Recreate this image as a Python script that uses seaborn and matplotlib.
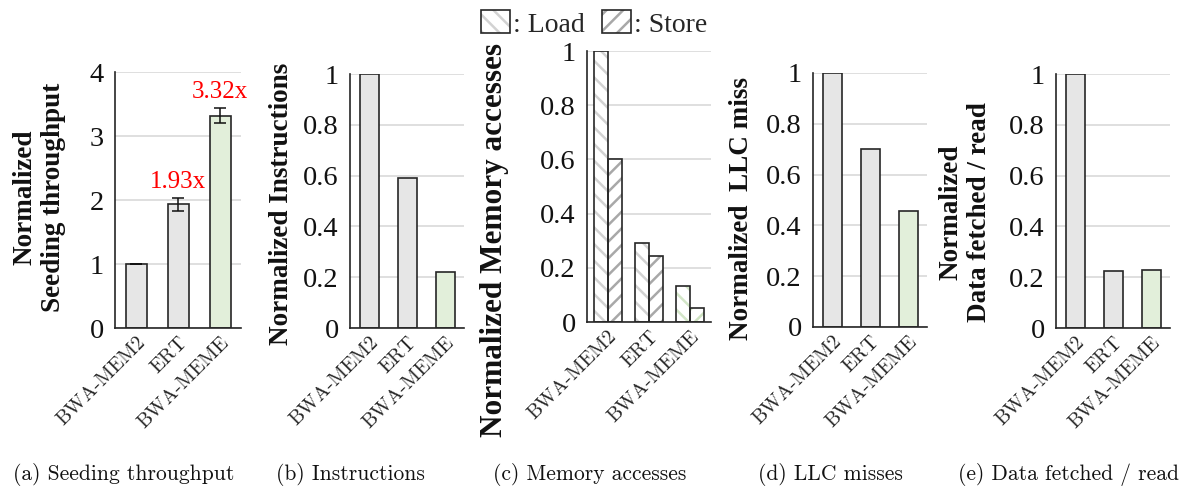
import numpy as np
import pandas as pd
import matplotlib
matplotlib.use("Agg")
import matplotlib.pyplot as plt
import seaborn as sns
from matplotlib.patches import Patch, Rectangle
from matplotlib.legend_handler import HandlerTuple
from matplotlib.ticker import FuncFormatter, FixedLocator

# ---------------- data ----------------
systems = ["BWA-MEM2", "ERT", "BWA-MEME"]
throughput = [1.0, 1.93, 3.32]
throughput_err = [0.0, 0.10, 0.11]
throughput_labels = ["", "1.93x", "3.32x"]
instructions = [1.0, 0.59, 0.22]
access_types = ["Load", "Store"]
mem_load = [1.0, 0.29, 0.134]
mem_store = [0.60, 0.244, 0.053]
llc_miss = [1.0, 0.70, 0.455]
data_fetched = [1.0, 0.223, 0.228]

ylabels = ["Normalized\nSeeding throughput", "Normalized Instructions",
           "Normalized Memory accesses", "Normalized  LLC miss",
           "Normalized\nData fetched / read"]
captions = ["(a) Seeding throughput", "(b) Instructions", "(c) Memory accesses",
            "(d) LLC misses", "(e) Data fetched / read"]

# ---------------- style ----------------
sns.set_theme(style="white")
plt.rcParams["font.family"] = ["Liberation Serif", "DejaVu Serif"]
plt.rcParams["hatch.linewidth"] = 1.8

GRAY = "#e6e6e6"
GREEN = "#e2efda"
EDGE = "#262626"
bar_palette = {"BWA-MEM2": GRAY, "ERT": GRAY, "BWA-MEME": GREEN}
load_hatch_col = {"BWA-MEM2": "#d2d2d2", "ERT": "#d2d2d2", "BWA-MEME": "#d3e6c8"}
store_hatch_col = {"BWA-MEM2": "#a8a8a8", "ERT": "#a8a8a8", "BWA-MEME": "#cde2c0"}

W, H = 1180, 486
fig = plt.figure(figsize=(W / 100, H / 100), dpi=100)

def px_axes(left, right, top, bottom):
    return fig.add_axes([left / W, 1 - bottom / H, (right - left) / W, (bottom - top) / H])

axes = [
    px_axes(115, 241, 72, 328),
    px_axes(350, 464, 74, 328),
    px_axes(587, 711, 51, 322),
    px_axes(813, 927, 73, 327),
    px_axes(1056, 1170, 74, 328),
]

def style_axis(ax, ymax, yticks):
    ax.set_xlim(-0.5, len(systems) - 0.5)
    ax.set_ylim(0, ymax)
    ax.yaxis.set_major_locator(FixedLocator(yticks))
    ax.yaxis.set_major_formatter(FuncFormatter(lambda v, p: f"{v:g}"))
    ax.yaxis.grid(True, color="#d9d9d9", lw=1.2)
    ax.xaxis.grid(False)
    ax.set_axisbelow(True)
    for s in ["top", "right"]:
        ax.spines[s].set_visible(False)
    for s in ["left", "bottom"]:
        ax.spines[s].set_color(EDGE)
        ax.spines[s].set_linewidth(1.2)
    ax.set_xticks(range(len(systems)))
    ax.set_xticks(np.arange(-0.5, len(systems), 1.0), minor=True)
    ax.tick_params(axis="x", which="major", length=0, pad=4)
    ax.tick_params(axis="x", which="minor", length=6, width=1.2, color=EDGE, direction="out")
    ax.tick_params(axis="y", which="major", length=5, width=1.2, color=EDGE,
                   direction="out", labelsize=20.5, pad=3)
    ax.set_xticklabels(systems, rotation=45, ha="right", rotation_mode="anchor",
                       family="cmr10", fontsize=14.5)
    for lab in ax.get_yticklabels():
        lab.set_color("#111111")
    ax.set_xlabel("")

def simple_bars(ax, values):
    df = pd.DataFrame({"system": systems, "value": values})
    sns.barplot(data=df, x="system", y="value", hue="system", palette=bar_palette,
                width=0.5, edgecolor=EDGE, linewidth=1.2, legend=False, ax=ax,
                errorbar=None, saturation=1)

# (a) throughput
ax = axes[0]
simple_bars(ax, throughput)
centers = [p.get_x() + p.get_width() / 2 for p in sorted(ax.patches, key=lambda q: q.get_x())]
ax.errorbar(centers, throughput, yerr=throughput_err, fmt="none", ecolor="#111111",
            elinewidth=1.1, capsize=4, capthick=1.1, zorder=5)
for c, v, e, t in zip(centers, throughput, throughput_err, throughput_labels):
    if t:
        ax.annotate(t, (c, v + e), xytext=(0, 4), textcoords="offset points",
                    ha="center", va="bottom", color="#ff0000", fontsize=18)
style_axis(ax, 4, [0, 1, 2, 3, 4])

# (b) instructions
simple_bars(axes[1], instructions)
style_axis(axes[1], 1, [0, 0.2, 0.4, 0.6, 0.8, 1.0])

# (c) memory accesses
ax = axes[2]
df_mem = pd.DataFrame({
    "system": systems * 2,
    "type": [access_types[0]] * 3 + [access_types[1]] * 3,
    "value": mem_load + mem_store,
})
sns.barplot(data=df_mem, x="system", y="value", hue="type", hue_order=access_types,
            width=0.68, dodge=True, legend=False, ax=ax, errorbar=None, saturation=1,
            palette=["white", "white"])
hatch_cols = [load_hatch_col, store_hatch_col]
hatches = ["\\\\", "//"]
for k, cont in enumerate(ax.containers):
    for sys_name, p in zip(systems, cont.patches):
        p.set_facecolor("white")
        p.set_edgecolor(hatch_cols[k][sys_name])
        p.set_hatch(hatches[k])
        p.set_linewidth(0)
        ax.add_patch(Rectangle(p.get_xy(), p.get_width(), p.get_height(), fill=False,
                               edgecolor=EDGE, linewidth=1.2, zorder=3))
style_axis(ax, 1, [0, 0.2, 0.4, 0.6, 0.8, 1.0])

# (d) LLC miss
simple_bars(axes[3], llc_miss)
style_axis(axes[3], 1, [0, 0.2, 0.4, 0.6, 0.8, 1.0])

# (e) data fetched
simple_bars(axes[4], data_fetched)
style_axis(axes[4], 1, [0, 0.2, 0.4, 0.6, 0.8, 1.0])

# y labels
label_pos = [(-0.6, 0.51), (-0.605, 0.488), (-0.742, 0.303), (-0.623, 0.465), (-0.8, 0.457)]
label_size = [19.5, 19.5, 22.5, 19.5, 19.5]
for ax, lab, (lx, ly), fs in zip(axes, ylabels, label_pos, label_size):
    ax.set_ylabel(lab, fontsize=fs, fontweight="bold", va="center", ha="center",
                  linespacing=1.18, color="#111111")
    ax.yaxis.set_label_coords(lx, ly)

# captions
cap_x = [124, 350, 590, 830, 1069]
for cx, cap in zip(cap_x, captions):
    fig.text(cx / W, 1 - 474 / H, cap, ha="center", va="center", family="cmr10",
             fontsize=15.5, color="#111111")

# legend
h_load = (Patch(facecolor="white", edgecolor="#d2d2d2", hatch="\\\\", linewidth=0),
          Patch(facecolor="none", edgecolor=EDGE, linewidth=1.2))
h_store = (Patch(facecolor="white", edgecolor="#a8a8a8", hatch="//", linewidth=0),
           Patch(facecolor="none", edgecolor=EDGE, linewidth=1.2))
fig.legend([h_load, h_store], [": " + t for t in access_types],
           handler_map={tuple: HandlerTuple(ndivide=1)},
           loc="center", bbox_to_anchor=(594 / W, 1 - 24 / H), ncol=2, frameon=False,
           fontsize=20, handlelength=1.05, handleheight=0.9, handletextpad=0.1,
           columnspacing=0.6, borderpad=0)

fig.savefig("out.png", dpi=100)
